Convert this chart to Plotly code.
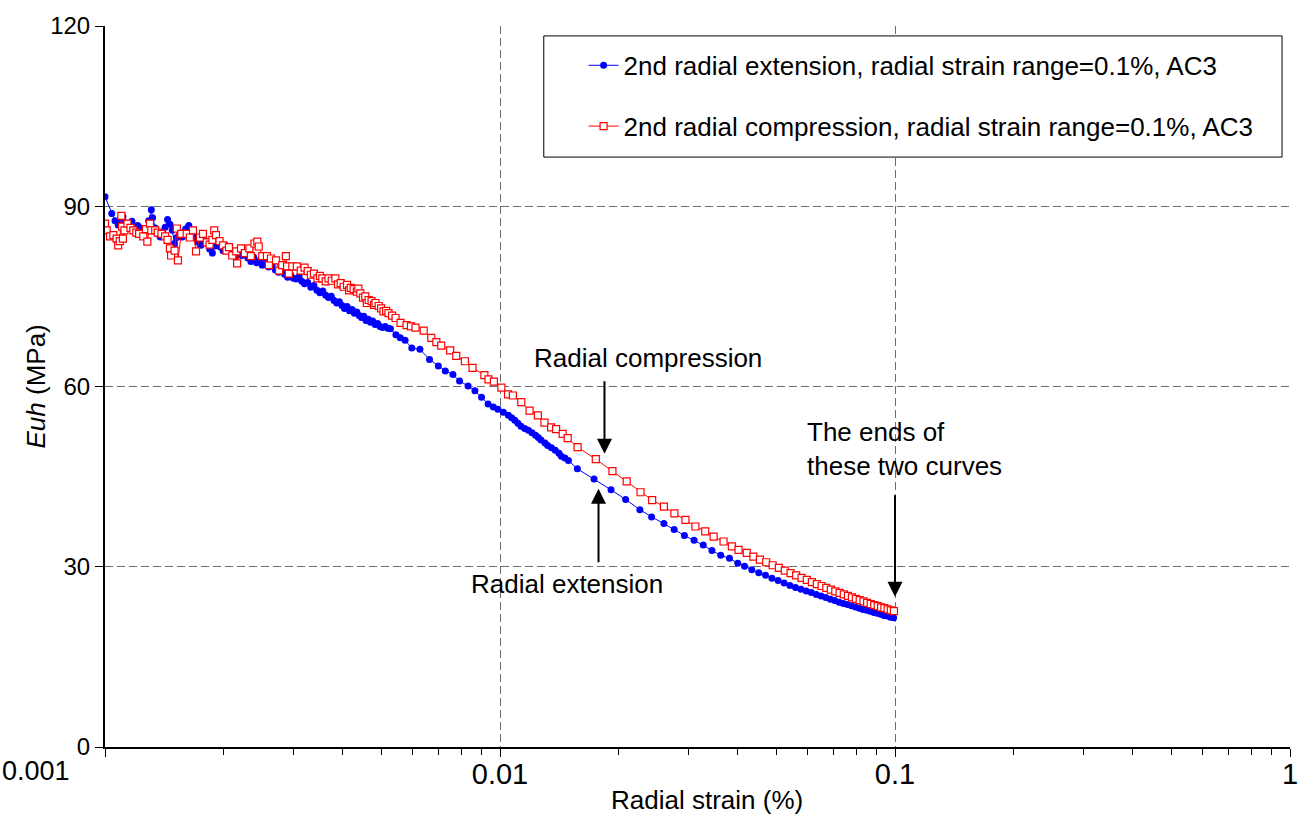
import plotly.graph_objects as go

FONT = "Liberation Sans, Arial, sans-serif"

# ---- data (radial strain %, Euh MPa) ----
blue_points = [
    (0.00100, 91.6), (0.00104, 88.8), (0.00106, 87.6), (0.00108, 86.9), (0.00110, 87.8),
    (0.00111, 88.3), (0.00113, 87.2), (0.00115, 86.6), (0.00117, 87.5), (0.00119, 86.2),
    (0.00121, 86.8), (0.00123, 86.4), (0.00125, 85.6), (0.00127, 86.0), (0.00129, 87.6),
    (0.00131, 89.4), (0.00132, 88.1), (0.00134, 86.4), (0.00136, 85.4), (0.00138, 84.9),
    (0.00140, 85.7), (0.00142, 86.5), (0.00144, 87.8), (0.00146, 87.0), (0.00148, 86.0),
    (0.00150, 83.8), (0.00152, 84.8), (0.00155, 85.6), (0.00157, 84.9), (0.00160, 86.2),
    (0.00163, 86.8), (0.00166, 85.8), (0.00169, 84.9), (0.00172, 84.0), (0.00175, 83.5),
    (0.00178, 84.6), (0.00181, 83.9), (0.00184, 82.9), (0.00187, 82.2), (0.00190, 83.4),
    (0.00193, 84.3), (0.00196, 83.2), (0.00199, 82.6), (0.00202, 83.5), (0.00206, 82.8),
    (0.00210, 82.1), (0.00214, 81.6), (0.00218, 82.6), (0.00222, 81.8), (0.00226, 82.3),
    (0.00230, 81.4), (0.00234, 80.8), (0.00238, 81.5), (0.00242, 80.6), (0.00246, 80.9),
    (0.00250, 80.2), (0.00255, 80.7), (0.00260, 79.9), (0.00265, 80.3), (0.00270, 79.4),
    (0.00275, 79.0), (0.00280, 79.5), (0.00285, 78.7), (0.00290, 78.2), (0.00295, 78.6),
    (0.00300, 78.0), (0.00305, 77.9), (0.00310, 78.3), (0.00315, 77.5), (0.00320, 77.1),
    (0.00326, 77.3), (0.00332, 76.5), (0.00338, 76.8), (0.00344, 76.0), (0.00350, 75.6),
    (0.00356, 75.9), (0.00362, 75.2), (0.00368, 74.8), (0.00374, 75.0), (0.00380, 74.3),
    (0.00386, 73.9), (0.00392, 74.1), (0.00398, 73.5), (0.00404, 73.0), (0.00410, 73.3),
    (0.00416, 72.6), (0.00422, 72.8), (0.00428, 72.2), (0.00434, 72.4), (0.00440, 71.8),
    (0.00446, 71.5), (0.00452, 71.7), (0.00458, 71.0), (0.00464, 71.2), (0.00470, 70.7),
    (0.00476, 70.9), (0.00483, 70.3), (0.00490, 70.5), (0.00497, 70.0), (0.00504, 69.8),
    (0.00512, 70.0), (0.00520, 69.7), (0.00528, 69.6), (0.00545, 68.6), (0.00559, 68.1),
    (0.00575, 67.7), (0.00598, 66.4), (0.00627, 66.2), (0.00663, 64.5), (0.00698, 63.4),
    (0.00727, 62.6), (0.00760, 62.0), (0.00790, 60.9), (0.00830, 60.1), (0.00864, 59.3),
    (0.00898, 58.2), (0.00933, 57.1), (0.00962, 56.6), (0.00988, 56.2), (0.01020, 55.7),
    (0.01050, 55.2), (0.01070, 54.8), (0.01090, 54.4), (0.01110, 53.9), (0.01130, 53.4),
    (0.01155, 53.0), (0.01180, 52.7), (0.01205, 52.3), (0.01230, 51.9), (0.01250, 51.5),
    (0.01270, 51.1), (0.01300, 50.6), (0.01320, 50.2), (0.01350, 49.8), (0.01380, 49.4),
    (0.01410, 48.9), (0.01430, 48.4), (0.01460, 48.1), (0.01490, 47.7), (0.01570, 46.3),
    (0.01730, 44.6), (0.01910, 42.8), (0.02080, 41.2), (0.02260, 39.5), (0.02420, 38.3),
    (0.02600, 37.2), (0.02760, 36.2), (0.02930, 35.2), (0.03100, 34.4), (0.03270, 33.6),
    (0.03440, 32.7), (0.03620, 31.9), (0.03810, 31.4), (0.04000, 30.6), (0.04160, 30.1),
    (0.0434, 29.5), (0.0452, 29.0), (0.0470, 28.6), (0.0488, 28.1), (0.0506, 27.7),
    (0.0524, 27.3), (0.0542, 26.9), (0.0560, 26.55), (0.0578, 26.25), (0.0596, 25.95),
    (0.0614, 25.7), (0.0632, 25.4), (0.0650, 25.15), (0.0668, 24.9), (0.0686, 24.6),
    (0.0704, 24.4), (0.0722, 24.1), (0.0740, 23.9), (0.0758, 23.7), (0.0776, 23.5),
    (0.0794, 23.3), (0.0812, 23.1), (0.0830, 22.9), (0.0848, 22.75), (0.0866, 22.6),
    (0.0884, 22.4), (0.0902, 22.25), (0.0920, 22.1), (0.0938, 21.9), (0.0956, 21.8),
    (0.0974, 21.6), (0.0992, 21.5),
]

red_points = [
    (0.00100, 87.1), (0.00101, 86.0), (0.00103, 85.0), (0.00105, 85.2), (0.00107, 84.6),
    (0.00108, 83.5), (0.00109, 84.2), (0.00110, 88.4), (0.001105, 86.6), (0.00111, 84.6),
    (0.00112, 86.0), (0.00114, 87.1), (0.00116, 86.4), (0.00118, 86.0), (0.00120, 85.6),
    (0.00122, 85.4), (0.00125, 85.0), (0.00127, 86.2), (0.00128, 84.1), (0.00130, 87.1),
    (0.00131, 86.0), (0.00134, 86.0), (0.00136, 85.6), (0.00139, 85.4), (0.00142, 85.0),
    (0.00144, 84.4), (0.00146, 83.0), (0.00147, 81.8), (0.00150, 82.6), (0.00152, 86.3),
    (0.00153, 81.0), (0.00156, 85.4), (0.00161, 85.4), (0.00164, 84.8), (0.00167, 86.0),
    (0.00170, 82.5), (0.00174, 84.8), (0.00177, 85.4), (0.00181, 84.0), (0.00184, 83.6),
    (0.00187, 84.4), (0.00189, 86.0), (0.00191, 85.2), (0.00195, 84.2), (0.00199, 83.5),
    (0.00203, 82.6), (0.00206, 83.2), (0.00210, 81.8), (0.00215, 82.5), (0.00216, 80.5),
    (0.00221, 83.0), (0.00226, 82.2), (0.00232, 83.0), (0.00234, 81.7), (0.00239, 83.8),
    (0.00243, 84.1), (0.00245, 83.3), (0.00250, 81.7), (0.00257, 81.7), (0.00260, 80.2),
    (0.00263, 81.3), (0.00271, 81.0), (0.00276, 79.3), (0.00281, 80.2), (0.00287, 81.7),
    (0.00289, 80.0), (0.00292, 78.8), (0.00298, 80.0), (0.00306, 80.0), (0.00313, 79.3),
    (0.00320, 79.8), (0.00326, 79.2), (0.00332, 78.6), (0.00338, 78.8), (0.00345, 78.0),
    (0.00350, 78.4), (0.00355, 78.0), (0.00362, 77.5), (0.00368, 78.0), (0.00375, 77.6),
    (0.00383, 78.0), (0.00389, 77.0), (0.00395, 77.2), (0.00402, 76.6), (0.00410, 76.9),
    (0.00415, 76.0), (0.00419, 76.4), (0.00426, 76.2), (0.00434, 75.8), (0.00438, 76.3),
    (0.00443, 75.5), (0.00450, 74.8), (0.00456, 75.0), (0.00460, 73.9), (0.00465, 74.4),
    (0.00473, 74.2), (0.00480, 73.6), (0.00484, 73.9), (0.00493, 73.4), (0.00500, 73.0),
    (0.00507, 72.5), (0.00515, 72.6), (0.00522, 72.2), (0.00533, 71.8), (0.00544, 71.4),
    (0.00560, 70.6), (0.00580, 70.2), (0.00595, 70.0), (0.00611, 69.8), (0.00641, 69.3),
    (0.00670, 68.1), (0.00690, 67.4), (0.00710, 66.8), (0.00748, 66.0), (0.00775, 65.1),
    (0.00815, 64.2), (0.00852, 63.1), (0.00913, 61.9), (0.00935, 61.2), (0.00965, 60.8),
    (0.01008, 59.8), (0.01048, 58.7), (0.01078, 58.5), (0.01132, 57.4), (0.01188, 56.0),
    (0.01247, 55.2), (0.01296, 54.0), (0.01347, 53.2), (0.01387, 52.9), (0.01441, 52.1),
    (0.01484, 51.4), (0.01572, 49.9), (0.01748, 47.9), (0.01926, 45.9), (0.02093, 44.2),
    (0.02269, 42.4), (0.02428, 41.1), (0.02600, 40.0), (0.02764, 38.9), (0.02948, 37.8),
    (0.03124, 36.7), (0.03308, 35.9), (0.03474, 35.0), (0.03681, 34.2), (0.03863, 33.4),
    (0.04017, 32.8), (0.04214, 32.3), (0.0438, 31.7), (0.0455, 31.2), (0.0472, 30.75),
    (0.0490, 30.25), (0.0508, 29.8), (0.0526, 29.35), (0.0544, 28.95), (0.0562, 28.55),
    (0.0580, 28.15), (0.0598, 27.8), (0.0616, 27.45), (0.0634, 27.1), (0.0652, 26.8),
    (0.0670, 26.5), (0.0688, 26.2), (0.0706, 25.9), (0.0724, 25.65), (0.0742, 25.4),
    (0.0760, 25.15), (0.0778, 24.9), (0.0796, 24.65), (0.0814, 24.45), (0.0832, 24.25),
    (0.0850, 24.0), (0.0868, 23.8), (0.0886, 23.6), (0.0904, 23.45), (0.0922, 23.25),
    (0.0940, 23.1), (0.0958, 22.9), (0.0976, 22.75), (0.0994, 22.6),
]

series_names = [
    "2nd radial extension, radial strain range=0.1%, AC3",
    "2nd radial compression, radial strain range=0.1%, AC3",
]

x_tick_vals = [0.001, 0.01, 0.1, 1]
x_tick_text = ["", "0.01", "0.1", "1"]
x_minor_vals = [0.002, 0.003, 0.004, 0.005, 0.006, 0.007, 0.008, 0.009,
                0.02, 0.03, 0.04, 0.05, 0.06, 0.07, 0.08, 0.09,
                0.2, 0.3, 0.4, 0.5, 0.6, 0.7, 0.8, 0.9]
y_tick_vals = [0, 30, 60, 90, 120]

bx = [p[0] for p in blue_points]
by = [p[1] for p in blue_points]
rx = [p[0] for p in red_points]
ry = [p[1] for p in red_points]

fig = go.Figure()
fig.add_trace(go.Scatter(
    x=bx, y=by, mode="lines+markers", name=series_names[0], legendgroup="a",
    line=dict(color="#0000FF", width=1),
    marker=dict(symbol="circle", size=7, color="#0000FF"),
))
fig.add_trace(go.Scatter(
    x=rx, y=ry, mode="lines+markers", name=series_names[1], legendgroup="b",
    line=dict(color="#FF0000", width=1),
    marker=dict(symbol="square", size=7, color="white", line=dict(color="#FF0000", width=1.2)),
))

grid = dict(showgrid=True, gridcolor="#6e6e6e", gridwidth=1, griddash="8px,4px")

fig.update_layout(
    width=1310, height=817,
    margin=dict(l=105, r=14, t=21, b=70),
    paper_bgcolor="white", plot_bgcolor="white",
    font=dict(family=FONT, size=24, color="black"),
    showlegend=True,
    legend=dict(
        x=(591 - 105 - 5) / 1191, xanchor="left",
        y=(747 - 37) / 726, yanchor="top",
        bgcolor="rgba(0,0,0,0)", borderwidth=0,
        font=dict(family=FONT, size=26, color="black"),
        tracegroupgap=24, traceorder="grouped",
    ),
    xaxis=dict(
        type="log", range=[-3, 0],
        tickmode="array", tickvals=x_tick_vals, ticktext=x_tick_text,
        ticks="outside", ticklen=8, tickwidth=1, tickcolor="black",
        ticklabelstandoff=-8,
        showline=True, linecolor="black", linewidth=2,
        tickfont=dict(family=FONT, size=29, color="black"),
        minor=dict(tickmode="array", tickvals=x_minor_vals, ticks="outside",
                   ticklen=6, tickwidth=1, tickcolor="black", showgrid=False),
        zeroline=False, **grid,
    ),
    yaxis=dict(
        range=[0, 120], tickmode="array", tickvals=y_tick_vals,
        ticks="outside", ticklen=8, tickwidth=1, tickcolor="black",
        showline=True, linecolor="black", linewidth=2,
        tickfont=dict(family=FONT, size=24, color="black"),
        zeroline=False, **grid,
    ),
)

# legend frame
fig.add_shape(type="rect", xref="paper", yref="paper",
              x0=(546 - 105) / 1191, x1=(1288 - 105) / 1191,
              y0=(747 - 153) / 726, y1=(747 - 31) / 726,
              line=dict(color="black", width=1), fillcolor="white", layer="above")

ann_font = dict(family=FONT, size=26, color="black")
annotations = [
    # axis titles
    dict(text="<i>Euh</i> (MPa)", xref="paper", yref="paper", x=0, xshift=-70, y=0.5,
         textangle=-90, showarrow=False, font=ann_font, xanchor="center", yanchor="middle"),
    dict(text="Radial strain (%)", xref="paper", yref="paper", x=(710 - 105) / 1191, y=0,
         yshift=-53, showarrow=False, font=ann_font, xanchor="center", yanchor="middle"),
    # first x tick label, pushed inside the chart like the original
    dict(text="0.001", xref="paper", yref="paper", x=0, xshift=-105, y=0, yshift=-24,
         showarrow=False, font=dict(family=FONT, size=27, color="black"),
         xanchor="left", yanchor="middle"),
    # text labels
    dict(text="Radial compression", x=-1.6247, y=64.8, showarrow=False, font=ann_font,
         xanchor="center", yanchor="middle"),
    dict(text="Radial extension", x=-1.8312, y=27.1, showarrow=False, font=ann_font,
         xanchor="center", yanchor="middle"),
    dict(text="The ends of<br>these two curves", x=-1.2267, y=49.6, showarrow=False,
         font=ann_font, xanchor="left", yanchor="middle", align="left"),
    # arrows
    dict(text="", x=-1.7355, y=48.8, ax=0, ay=-74, showarrow=True, arrowhead=2,
         arrowsize=1.5, arrowwidth=2, arrowcolor="black"),
    dict(text="", x=-1.7506, y=43.0, ax=0, ay=75, showarrow=True, arrowhead=2,
         arrowsize=1.5, arrowwidth=2, arrowcolor="black"),
    dict(text="", x=-1.0, y=25.0, ax=0, ay=-103, showarrow=True, arrowhead=2,
         arrowsize=1.5, arrowwidth=2, arrowcolor="black"),
]
fig.update_layout(annotations=annotations)

fig.write_html("out.html")
